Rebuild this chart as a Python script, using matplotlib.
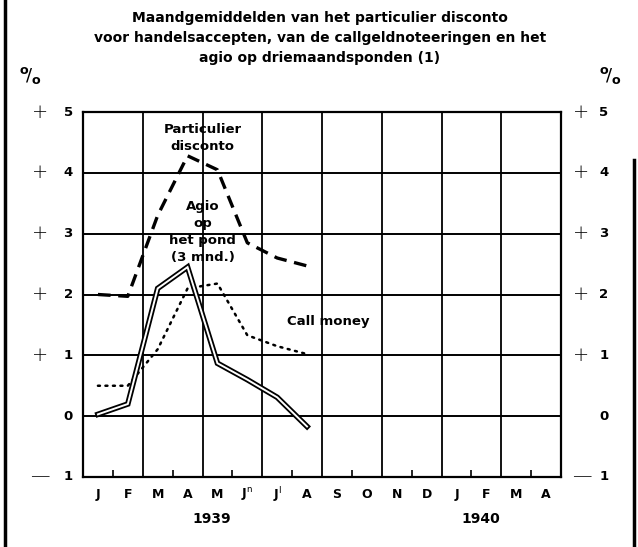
import matplotlib
matplotlib.use("Agg")
import matplotlib.pyplot as plt
from matplotlib.lines import Line2D
import matplotlib.transforms as mtransforms

# ---- data ----
months = ["J", "F", "M", "A", "M", "J$^{\\mathrm{n}}$", "J$^{\\mathrm{l}}$", "A",
          "S", "O", "N", "D", "J", "F", "M", "A"]
years = ["1939", "1940"]
year_pos = [4.3, 13.3]
data_months = [0, 1, 2, 3, 4, 5, 6, 7]
particulier = [2.0, 1.97, 3.3, 4.28, 4.05, 2.85, 2.6, 2.47]
call_money = [0.5, 0.5, 1.1, 2.1, 2.18, 1.33, 1.15, 1.02]
agio = [0.03, 0.2, 2.1, 2.45, 0.87, 0.6, 0.31, -0.17]
ytick_vals = [5, 4, 3, 2, 1, 0, -1]
ytick_sign = ["+", "+", "+", "+", "+", "", "\u2014"]
ytick_num = ["5", "4", "3", "2", "1", "0", "1"]
title_lines = ["Maandgemiddelden van het particulier disconto",
               "voor handelsaccepten, van de callgeldnoteeringen en het",
               "agio op driemaandsponden (1)"]

W, H = 638, 547
fig = plt.figure(figsize=(W / 100, H / 100), dpi=100)
fig.patch.set_facecolor("white")

L, R, T, B = 83, 561, 112, 477
ax = fig.add_axes([L / W, 1 - B / H, (R - L) / W, (B - T) / H])
ax.set_xlim(0, 16)
ax.set_ylim(-1, 5)

for s in ax.spines.values():
    s.set_linewidth(1.6)
    s.set_color("black")

# grid
for y in ytick_vals:
    ax.axhline(y, color="black", lw=1.4, zorder=1)
for x in range(0, 17, 2):
    ax.axvline(x, color="black", lw=1.3, zorder=1)

ax.set_xticks(range(0, 17, 2))
ax.set_xticks(range(1, 16, 2), minor=True)
ax.tick_params(axis="x", which="both", direction="in", labelbottom=False)
ax.tick_params(axis="x", which="major", length=0)
ax.tick_params(axis="x", which="minor", length=5, width=1.2, color="black")
ax.set_yticks([])

xs = [m + 0.5 for m in data_months]

# series
ax.plot(xs, particulier, color="black", lw=2.4, linestyle=(0, (3.8, 2.3)),
        zorder=3, solid_capstyle="butt")
ax.plot(xs, call_money, color="black", lw=1.8, linestyle=(0, (0.8, 2.2)),
        zorder=3, dash_capstyle="round")
ax.plot(xs, agio, color="black", lw=4.0, zorder=4, solid_joinstyle="miter")
ax.plot(xs, agio, color="white", lw=1.4, zorder=5, solid_joinstyle="miter")

fnt = dict(family="DejaVu Sans", weight="bold", color="black")

# month labels
bt = mtransforms.blended_transform_factory(ax.transData, ax.transAxes)
for i, m in enumerate(months):
    ax.text(i + 0.5, -0.048, m, transform=bt, ha="center", va="center",
            fontsize=9, **fnt)
for yp, yl in zip(year_pos, years):
    ax.text(yp, -0.115, yl, transform=bt, ha="center", va="center",
            fontsize=10, **fnt)

# y labels on both sides
lt = mtransforms.blended_transform_factory(ax.transAxes, ax.transData)
for v, sgn, num in zip(ytick_vals, ytick_sign, ytick_num):
    ax.text(-0.09, v, sgn, transform=lt, ha="center", va="center",
            fontsize=14, family="DejaVu Sans", weight="light", clip_on=False)
    ax.text(-0.031, v, num, transform=lt, ha="center", va="center",
            fontsize=9.5, clip_on=False, **fnt)
    ax.text(1.043, v, sgn, transform=lt, ha="center", va="center",
            fontsize=14, family="DejaVu Sans", weight="light", clip_on=False)
    ax.text(1.09, v, num, transform=lt, ha="center", va="center",
            fontsize=9.5, clip_on=False, **fnt)

pct = r"$^{\mathbf{o}}\!/_{\mathbf{o}}$"
fig.text(30 / W, 1 - 76 / H, pct, ha="center", va="center", fontsize=13)
fig.text(610 / W, 1 - 76 / H, pct, ha="center", va="center", fontsize=13)

# title
for i, line in enumerate(title_lines):
    fig.text(320 / W, 1 - (18 + 20 * i) / H, line, ha="center", va="center",
             fontsize=10, **fnt)

# annotations
ax.text(4.0, 4.57, "Particulier\ndisconto", ha="center", va="center",
        fontsize=9.5, linespacing=1.4, **fnt)
ax.text(4.0, 3.02, "Agio\nop\nhet pond\n(3 mnd.)", ha="center", va="center",
        fontsize=9.5, linespacing=1.4, **fnt)
ax.text(8.2, 1.55, "Call money", ha="center", va="center", fontsize=9.5, **fnt)

# page border lines
fig.add_artist(Line2D([5 / W, 5 / W], [0, 1], color="black", lw=2.5,
                      transform=fig.transFigure))
fig.add_artist(Line2D([634 / W, 634 / W], [0, 1 - 160 / H], color="black",
                      lw=2.5, transform=fig.transFigure))

fig.savefig("out.png", dpi=100, facecolor="white")
